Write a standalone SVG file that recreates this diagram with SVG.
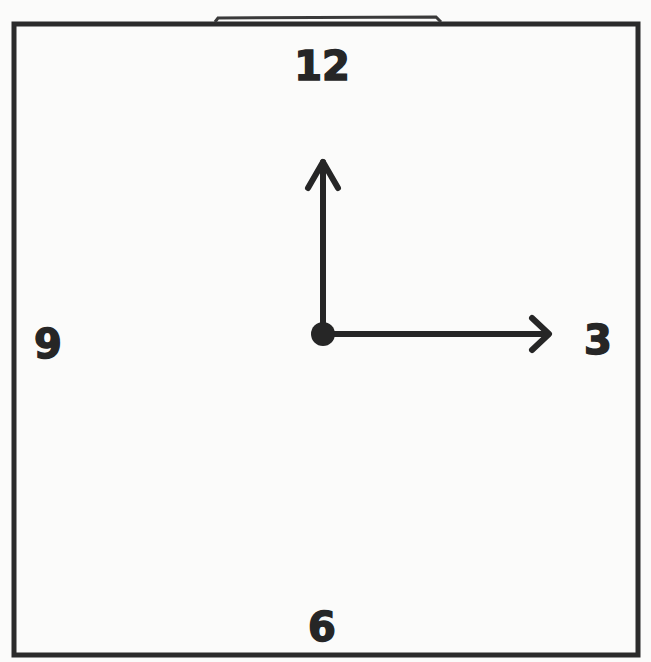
<svg xmlns="http://www.w3.org/2000/svg" width="651" height="662" viewBox="0 0 651 662">
<style>
.frame{fill:none;stroke:#2b2b2b;stroke-width:5}
.hand{fill:none;stroke:#262626;stroke-width:6;stroke-linecap:round;stroke-linejoin:round}
.num{font-family:"DejaVu Sans",sans-serif;font-weight:bold;font-size:40px;fill:#262626;text-anchor:middle;stroke:#262626;stroke-width:1.5}
</style>
<rect x="0" y="0" width="651" height="662" fill="#fbfbfa"/>
<g id="frame">
<rect class="frame" x="14" y="24" width="624" height="631"/>
<path d="M215 22 L218 18 L436 17 L441 22" fill="none" stroke="#3a3a3a" stroke-width="3"/>
</g>
<g id="connectors">
<line class="hand" x1="323" y1="334" x2="323" y2="162"/>
<polyline class="hand" points="308,188 323,162 338,188"/>
<line class="hand" x1="323" y1="334" x2="548" y2="334"/>
<polyline class="hand" points="532,318 549,334 532,350"/>
</g>
<g id="center"><circle cx="323" cy="334" r="12" fill="#262626"/></g>
<g id="n12"><text class="num" x="322" y="80">12</text></g>
<g id="n3"><text class="num" x="598" y="354">3</text></g>
<g id="n9"><text class="num" x="48" y="358">9</text></g>
<g id="n6"><text class="num" x="322" y="641">6</text></g>
</svg>
